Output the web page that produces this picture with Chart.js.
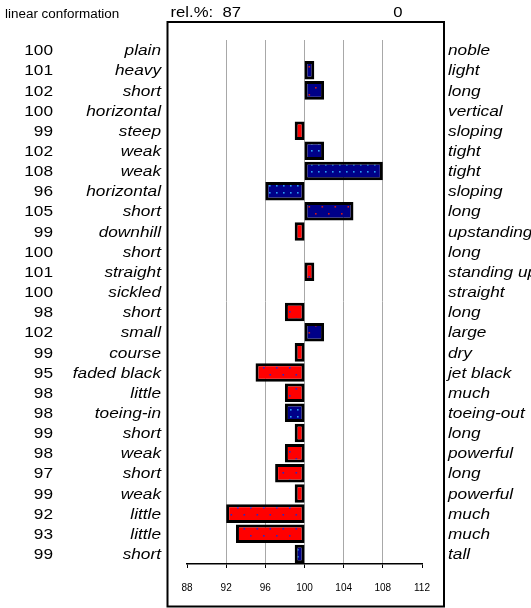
<!DOCTYPE html>
<html>
<head>
<meta charset="utf-8">
<script src="https://cdn.jsdelivr.net/npm/chart.js@4/dist/chart.umd.min.js"></script>
<style>
  html, body { margin: 0; padding: 0; background: #fff; }
  #wrap { width: 531px; height: 608px; }
</style>
</head>
<body>
<div id="wrap"><canvas id="c" width="531" height="608"></canvas></div>
<script>
// ---- data ----
const title = "linear conformation";
const relLabel = "rel.%:  87";
const relRight = "0";
const leftLabels = ["plain","heavy","short","horizontal","steep","weak","weak","horizontal","short","downhill","short","straight","sickled","short","small","course","faded black","little","toeing-in","short","weak","short","weak","little","little","short"];
const rightLabels = ["noble","light","long","vertical","sloping","tight","tight","sloping","long","upstanding","long","standing up","straight","long","large","dry","jet black","much","toeing-out","long","powerful","long","powerful","much","much","tall"];
const values = [100,101,102,100,99,102,108,96,105,99,100,101,100,98,102,99,95,98,98,99,98,97,99,92,93,99];
// bar group: "A" = navy with red dots, "B" = navy with light-blue dots, "C" = red with blue dots
const groups = ["A","A","A","C","C","B","B","B","A","C","C","C","C","C","A","C","C","C","B","C","C","C","C","C","C","B"];
const xTicks = [88,92,96,100,104,108,112];
const baseValue = 100;

// ---- patterns ----
function makePattern(bg, dot, w, h, dots) {
  const c = document.createElement('canvas');
  c.width = w; c.height = h;
  const g = c.getContext('2d');
  g.fillStyle = bg; g.fillRect(0, 0, w, h);
  g.fillStyle = dot;
  dots.forEach(d => g.fillRect(d[0], d[1], 1.6, 1.6));
  return document.getElementById('c').getContext('2d').createPattern(c, 'repeat');
}
const patterns = {
  A: makePattern('#000088', '#d01818', 13, 14, [[3,3],[9.5,10]]),
  B: makePattern('#000088', '#2a9df4', 7, 7, [[3,3]]),
  C: makePattern('#ff0000', '#2828c8', 13, 14, [[3,3],[9.5,10]])
};

const FONT = '"Liberation Sans", Arial, Helvetica, sans-serif';

function drawStretched(ctx, text, x, y, align, sx) {
  ctx.save();
  ctx.translate(x, y);
  ctx.scale(sx, 1);
  ctx.textAlign = align;
  ctx.fillText(text, 0, 0);
  ctx.restore();
}

const labelPlugin = {
  id: 'labels',
  afterDraw(chart) {
    const ctx = chart.ctx;
    const ys = chart.scales.y;
    const ca = chart.chartArea;
    ctx.save();
    ctx.fillStyle = '#000';
    ctx.textBaseline = 'middle';
    ctx.font = '15px ' + FONT;
    values.forEach((v, i) => {
      const y = ys.getPixelForValue(i) + 1;
      drawStretched(ctx, String(v), ca.left - 134, y, 'right', 1.15);
    });
    ctx.font = 'italic 15px ' + FONT;
    leftLabels.forEach((t, i) => {
      const y = ys.getPixelForValue(i) + 1;
      drawStretched(ctx, t, ca.left - 26, y, 'right', 1.15);
    });
    rightLabels.forEach((t, i) => {
      const y = ys.getPixelForValue(i) + 1;
      drawStretched(ctx, t, ca.right + 26, y, 'left', 1.15);
    });
    // header
    ctx.font = '12px ' + FONT;
    drawStretched(ctx, title, 5, 15, 'left', 1.12);
    ctx.font = '14.5px ' + FONT;
    drawStretched(ctx, relLabel, ca.left - 16.5, 13, 'left', 1.15);
    drawStretched(ctx, relRight, ca.right - 24, 13, 'center', 1.15);
    // frame
    ctx.strokeStyle = '#000';
    ctx.lineWidth = 2;
    const fl = ca.left - 19.5, fr = ca.right + 22, ft = ca.top - 18;
    ctx.strokeRect(fl, ft, fr - fl, chart.height - 1.5 - ft);
    ctx.restore();
  }
};

new Chart(document.getElementById('c'), {
  type: 'bar',
  data: {
    labels: leftLabels.map((l, i) => i),
    datasets: [{
      data: values.map(v => v === baseValue ? null : [baseValue, v]),
      backgroundColor: ctx => patterns[groups[ctx.dataIndex]],
      borderColor: '#000',
      borderWidth: 3,
      borderSkipped: false,
      barPercentage: 0.92,
      categoryPercentage: 1.0
    }]
  },
  options: {
    indexAxis: 'y',
    responsive: false,
    animation: false,
    events: [],
    layout: { padding: { left: 187, right: 109, top: 40, bottom: 0 } },
    plugins: { legend: { display: false }, tooltip: { enabled: false } },
    scales: {
      y: { type: 'category', display: false, offset: true },
      x: {
        type: 'linear',
        min: xTicks[0],
        max: xTicks[xTicks.length - 1],
        afterBuildTicks: s => { s.ticks = xTicks.map(v => ({ value: v })); },
        afterFit: s => { s.height = 44; },
        ticks: { color: '#000', font: { family: FONT, size: 10 }, padding: 14, maxRotation: 0 },
        grid: {
          color: c => (c.tick && (c.tick.value === xTicks[0] || c.tick.value === xTicks[xTicks.length - 1])) ? 'rgba(0,0,0,0)' : '#a8a8a8',
          lineWidth: 1,
          tickColor: '#000',
          tickLength: 4,
          drawOnChartArea: true
        },
        border: { display: true, color: '#000', width: 1.5 }
      }
    }
  },
  plugins: [labelPlugin]
});
</script>
</body>
</html>
